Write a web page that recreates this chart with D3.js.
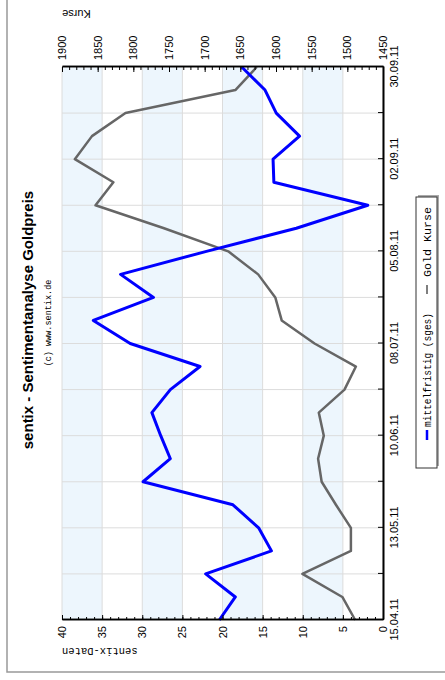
<!DOCTYPE html>
<html>
<head>
<meta charset="utf-8">
<script src="https://cdn.jsdelivr.net/npm/d3@7"></script>
<style>
body { margin: 0; background: #fff; }
.tick text { font-family: "Liberation Sans", Arial, sans-serif; font-size: 11px; fill: #000; }
</style>
</head>
<body>
<div id="chart"></div>
<script>
// weekly data points
var dates = ["15.04.11", "22.04.11", "29.04.11", "06.05.11", "13.05.11", "20.05.11", "27.05.11",
  "03.06.11", "10.06.11", "17.06.11", "24.06.11", "01.07.11", "08.07.11", "15.07.11", "22.07.11",
  "29.07.11", "05.08.11", "12.08.11", "19.08.11", "26.08.11", "02.09.11", "09.09.11", "16.09.11",
  "23.09.11", "30.09.11"];

// mittelfristig (sges)
var sentix = [20.4, 18.4, 22.1, 13.9, 15.5, 18.7, 29.9, 26.5, 27.7, 28.8, 26.5, 22.8, 31.5,
  36.1, 28.6, 32.7, 22.0, 10.8, 1.9, 13.6, 13.7, 10.4, 13.3, 14.7, 17.6];

// Gold Kurse
var gold = [1489, 1507, 1563, 1495, 1495, 1516, 1536, 1541, 1533, 1540, 1504, 1488, 1546,
  1592, 1601, 1625, 1667, 1757, 1853, 1828, 1882, 1858, 1811, 1657, 1627];

// axis ticks
var dateTicks = ["15.04.11", "29.04.11", "13.05.11", "27.05.11", "10.06.11", "24.06.11", "08.07.11",
  "22.07.11", "05.08.11", "19.08.11", "02.09.11", "16.09.11", "30.09.11"];
var dateLabels = ["15.04.11", "13.05.11", "10.06.11", "08.07.11", "05.08.11", "02.09.11", "30.09.11"];
var sentixTicks = [0, 5, 10, 15, 20, 25, 30, 35, 40];
var goldTicks = [1450, 1500, 1550, 1600, 1650, 1700, 1750, 1800, 1850, 1900];
var bandRanges = [[35, 40], [25, 30], [15, 20], [5, 10]];

var svgWidth = 445;
var svgHeight = 680;

// the chart is laid out in landscape and then turned a quarter left
var chartWidth = 680;
var chartHeight = 445;

var margin = {top: 62, right: 67, bottom: 62, left: 60};
var width = chartWidth - margin.left - margin.right;
var height = chartHeight - margin.top - margin.bottom;

var parseDate = d3.timeParse("%d.%m.%y");

var svg = d3.select("#chart")
  .append("svg")
  .attr("width", svgWidth)
  .attr("height", svgHeight);

var chart = svg.append("g")
  .attr("transform", `translate(0, ${svgHeight}) rotate(-90)`);

// outer frame
chart.append("rect")
  .attr("x", 8)
  .attr("y", 7)
  .attr("width", 700)
  .attr("height", 460)
  .attr("fill", "none")
  .attr("stroke", "#999")
  .attr("stroke-width", 1.5);

var chartGroup = chart.append("g")
  .attr("transform", `translate(${margin.left}, ${margin.top})`);

// scales
var xScale = d3.scaleTime()
  .domain([parseDate(dates[0]), parseDate(dates[dates.length - 1])])
  .range([0, width]);

var yScale = d3.scaleLinear()
  .domain([0, 40])
  .range([height, 0]);

var y2Scale = d3.scaleLinear()
  .domain([1450, 1900])
  .range([height, 0]);

// light blue bands
chartGroup.selectAll(".band")
  .data(bandRanges)
  .enter()
  .append("rect")
  .attr("x", 0)
  .attr("y", d => yScale(d[1]))
  .attr("width", width)
  .attr("height", d => yScale(d[0]) - yScale(d[1]))
  .attr("fill", "#edf6fd");

// grid
chartGroup.selectAll(".hgrid")
  .data(sentixTicks)
  .enter()
  .append("line")
  .attr("x1", 0)
  .attr("x2", width)
  .attr("y1", d => yScale(d))
  .attr("y2", d => yScale(d))
  .attr("stroke", "#dcdcdc")
  .attr("stroke-width", 1);

chartGroup.selectAll(".vgrid")
  .data(dateTicks)
  .enter()
  .append("line")
  .attr("x1", d => xScale(parseDate(d)))
  .attr("x2", d => xScale(parseDate(d)))
  .attr("y1", 0)
  .attr("y2", height)
  .attr("stroke", "#dcdcdc")
  .attr("stroke-width", 1);

// lines
var goldLine = d3.line()
  .x((d, i) => xScale(parseDate(dates[i])))
  .y(d => y2Scale(d));

var sentixLine = d3.line()
  .x((d, i) => xScale(parseDate(dates[i])))
  .y(d => yScale(d));

chartGroup.append("path")
  .datum(gold)
  .attr("d", goldLine)
  .attr("fill", "none")
  .attr("stroke", "#666")
  .attr("stroke-width", 2.5)
  .attr("stroke-linejoin", "round");

chartGroup.append("path")
  .datum(sentix)
  .attr("d", sentixLine)
  .attr("fill", "none")
  .attr("stroke", "#0000ff")
  .attr("stroke-width", 3)
  .attr("stroke-linejoin", "round");

// axes
chartGroup.append("g")
  .call(d3.axisLeft(yScale).tickValues(d3.range(0, 41)).tickSize(-3).tickSizeOuter(0).tickFormat(""));

chartGroup.append("g")
  .call(d3.axisLeft(yScale).tickValues(sentixTicks).tickSize(-5).tickSizeOuter(0).tickPadding(6));

chartGroup.append("g")
  .attr("transform", `translate(${width}, 0)`)
  .call(d3.axisRight(y2Scale).tickValues(d3.range(1450, 1901, 10)).tickSize(-3).tickSizeOuter(0).tickFormat(""));

chartGroup.append("g")
  .attr("transform", `translate(${width}, 0)`)
  .call(d3.axisRight(y2Scale).tickValues(goldTicks).tickSize(-5).tickSizeOuter(0).tickPadding(7)
    .tickFormat(d3.format("d")));

var xAxis = chartGroup.append("g")
  .attr("transform", `translate(0, ${height})`)
  .call(d3.axisBottom(xScale)
    .tickValues(dateTicks.map(parseDate))
    .tickSize(-5)
    .tickSizeOuter(0)
    .tickPadding(7)
    .tickFormat(d => {
      var s = d3.timeFormat("%d.%m.%y")(d);
      return dateLabels.indexOf(s) >= 0 ? s : "";
    }));

chartGroup.selectAll(".domain")
  .attr("stroke", "#000")
  .attr("stroke-width", 1.5);
xAxis.select(".domain").attr("stroke-width", 2);
chartGroup.selectAll(".tick line").attr("stroke", "#000");

// titles
chart.append("text")
  .attr("x", 360)
  .attr("y", 33)
  .attr("text-anchor", "middle")
  .attr("font-family", "Liberation Sans, Arial, sans-serif")
  .attr("font-weight", "bold")
  .attr("font-size", "15px")
  .text("sentix - Sentimentanalyse Goldpreis");

chart.append("text")
  .attr("x", 357)
  .attr("y", 51)
  .attr("text-anchor", "middle")
  .attr("font-family", "Liberation Mono, monospace")
  .attr("font-size", "8.5px")
  .text("(c) www.sentix.de");

chart.append("text")
  .attr("transform", `translate(32, ${margin.top}) rotate(-90)`)
  .attr("text-anchor", "end")
  .attr("font-family", "Liberation Mono, monospace")
  .attr("font-size", "10.5px")
  .text("sentix-Daten");

chart.append("text")
  .attr("transform", `translate(670, ${margin.top}) rotate(-90)`)
  .attr("text-anchor", "end")
  .attr("font-family", "Liberation Sans, Arial, sans-serif")
  .attr("font-size", "11px")
  .text("Kurse");

// legend
var legend = chart.append("g");

legend.append("rect")
  .attr("x", 214)
  .attr("y", 418)
  .attr("width", 271)
  .attr("height", 21)
  .attr("fill", "#aaa");

legend.append("rect")
  .attr("x", 212)
  .attr("y", 416)
  .attr("width", 271)
  .attr("height", 21)
  .attr("fill", "#fff")
  .attr("stroke", "#333")
  .attr("stroke-width", 1);

legend.append("line")
  .attr("x1", 240).attr("x2", 250)
  .attr("y1", 427).attr("y2", 427)
  .attr("stroke", "#0000ff")
  .attr("stroke-width", 2.5);

legend.append("text")
  .attr("x", 253)
  .attr("y", 430.5)
  .attr("font-family", "Liberation Mono, monospace")
  .attr("font-size", "10px")
  .attr("textLength", 114)
  .attr("lengthAdjust", "spacingAndGlyphs")
  .text("mittelfristig (sges)");

legend.append("line")
  .attr("x1", 386).attr("x2", 395)
  .attr("y1", 427).attr("y2", 427)
  .attr("stroke", "#555")
  .attr("stroke-width", 1.5);

legend.append("text")
  .attr("x", 403)
  .attr("y", 430.5)
  .attr("font-family", "Liberation Mono, monospace")
  .attr("font-size", "10px")
  .attr("textLength", 70)
  .attr("lengthAdjust", "spacingAndGlyphs")
  .text("Gold Kurse");
</script>
</body>
</html>
